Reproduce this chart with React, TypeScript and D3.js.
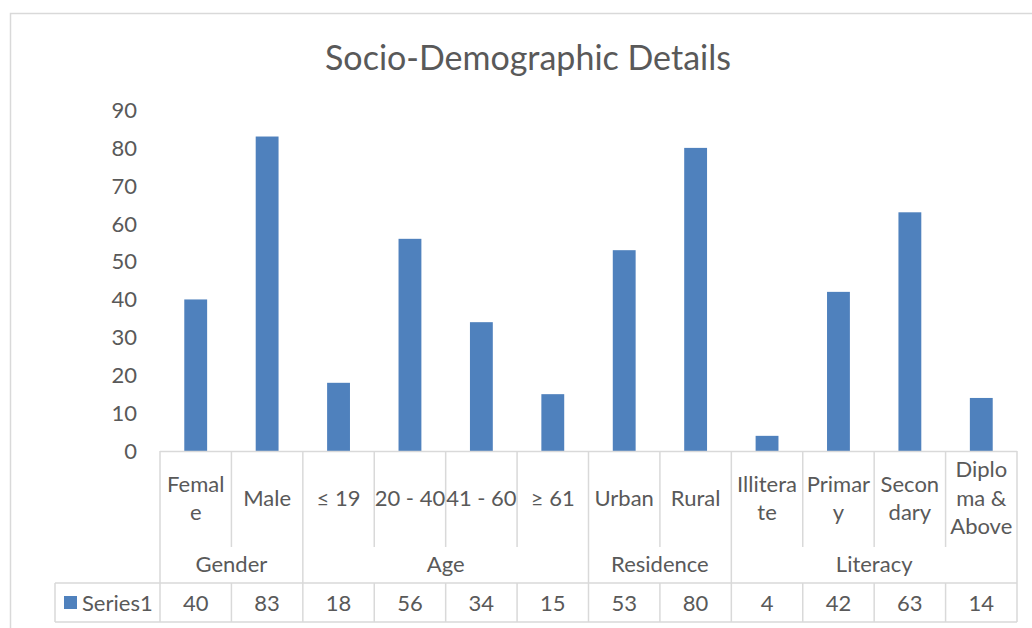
import React from "react";
import * as d3 from "d3";

// Category labels as they wrap inside their narrow table cells
const categoryLines: string[][] = [
  ["Femal", "e"],
  ["Male"],
  ["≤ 19"],
  ["20 - 40"],
  ["41 - 60"],
  ["≥ 61"],
  ["Urban"],
  ["Rural"],
  ["Illitera", "te"],
  ["Primar", "y"],
  ["Secon", "dary"],
  ["Diplo", "ma &", "Above"],
];
const values = [40, 83, 18, 56, 34, 15, 53, 80, 4, 42, 63, 14];
const groupNames = ["Gender", "Age", "Residence", "Literacy"];
const groupSizes = [2, 4, 2, 4];
const yTicks = [0, 10, 20, 30, 40, 50, 60, 70, 80, 90];
const seriesName = "Series1";
const title = "Socio-Demographic Details";

const W = 1032;
const H = 628;
const FONT = "Lato, 'Open Sans', sans-serif";
const TEXT = "#595959";
const LINE = "#d9d9d9";
const BAR = "#4f81bd";
const FS = 22;

export default function App() {
  const keys = categoryLines.map((_, i) => String(i));
  const x = d3.scaleBand<string>().domain(keys).range([160, 1017]).paddingInner(0).paddingOuter(0);
  const y = d3.scaleLinear().domain([0, 90]).range([451, 110]);
  const bw = x.bandwidth();
  const barW = bw * 0.32;

  const yAxisBottom = y(0);
  const catRowBottom = 547;
  const groupRowBottom = 583;
  const tableBottom = 622;

  // group boundaries (category indices where a group starts)
  const groupStarts: number[] = [];
  let acc = 0;
  groupSizes.forEach((s) => {
    groupStarts.push(acc);
    acc += s;
  });
  const boundaryIdx = new Set(groupStarts.concat([acc]));

  const lineH = 28.5;
  const catMid = 498;

  return (
    <div style={{ position: "absolute", left: 0, top: 0 }}>
      <svg width={W} height={H} style={{ display: "block" }} fontFamily={FONT}>
        <rect x={0} y={0} width={W} height={H} fill="#fff" />
        {/* chart frame */}
        <rect x={10.5} y={13.5} width={W + 20} height={H + 20} fill="none" stroke={LINE} strokeWidth={1.5} />

        <text x={528} y={70} textAnchor="middle" fontSize={34} fill={TEXT}>
          {title}
        </text>

        {/* y tick labels */}
        {yTicks.map((t) => (
          <text key={t} x={137} y={y(t)} dy="0.36em" textAnchor="end" fontSize={FS} fill={TEXT}>
            {t}
          </text>
        ))}

        {/* bars */}
        {values.map((v, i) => (
          <rect
            key={i}
            x={(x(String(i)) as number) + (bw - barW) / 2}
            y={y(v)}
            width={barW}
            height={yAxisBottom - y(v)}
            fill={BAR}
          />
        ))}

        {/* axis line / table top */}
        <line x1={160} x2={1017} y1={yAxisBottom + 0.5} y2={yAxisBottom + 0.5} stroke={LINE} strokeWidth={1.5} />
        {/* data table lines */}
        <line x1={55} x2={1017} y1={groupRowBottom} y2={groupRowBottom} stroke={LINE} strokeWidth={1.5} />
        <line x1={55} x2={1017} y1={tableBottom} y2={tableBottom} stroke={LINE} strokeWidth={1.5} />
        <line x1={55} x2={55} y1={groupRowBottom} y2={tableBottom} stroke={LINE} strokeWidth={1.5} />

        {/* vertical separators */}
        {d3.range(keys.length + 1).map((i) => {
          const xx = i < keys.length ? (x(String(i)) as number) : 1017;
          const isGroup = boundaryIdx.has(i);
          return (
            <g key={i}>
              <line x1={xx} x2={xx} y1={yAxisBottom} y2={isGroup ? groupRowBottom : catRowBottom} stroke={LINE} strokeWidth={1.5} />
              <line x1={xx} x2={xx} y1={groupRowBottom} y2={tableBottom} stroke={LINE} strokeWidth={1.5} />
            </g>
          );
        })}

        {/* category labels */}
        {categoryLines.map((lines, i) => {
          const cx = (x(String(i)) as number) + bw / 2;
          const start = catMid - ((lines.length - 1) * lineH) / 2;
          return (
            <text key={i} textAnchor="middle" fontSize={FS} fill={TEXT}>
              {lines.map((ln, j) => (
                <tspan key={j} x={cx} y={start + j * lineH} dy="0.36em">
                  {ln}
                </tspan>
              ))}
            </text>
          );
        })}

        {/* group labels */}
        {groupNames.map((g, k) => {
          const s = groupStarts[k];
          const e = s + groupSizes[k];
          const x0 = x(String(s)) as number;
          const x1 = e < keys.length ? (x(String(e)) as number) : 1017;
          return (
            <text key={g} x={(x0 + x1) / 2} y={564} dy="0.36em" textAnchor="middle" fontSize={FS} fill={TEXT}>
              {g}
            </text>
          );
        })}

        {/* legend key + series name */}
        <rect x={64} y={596} width={13} height={13} fill={BAR} />
        <text x={82} y={603} dy="0.36em" fontSize={FS} fill={TEXT}>
          {seriesName}
        </text>

        {/* data values */}
        {values.map((v, i) => (
          <text key={i} x={(x(String(i)) as number) + bw / 2} y={603} dy="0.36em" textAnchor="middle" fontSize={FS} fill={TEXT}>
            {v}
          </text>
        ))}
      </svg>
    </div>
  );
}
